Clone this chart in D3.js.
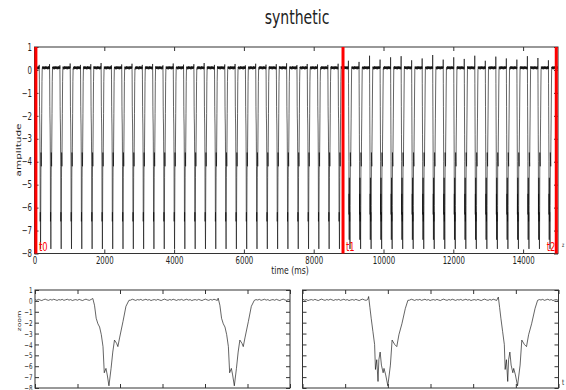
<!DOCTYPE html>
<html>
<head>
<meta charset="utf-8">
<script src="https://cdn.jsdelivr.net/npm/d3@7"></script>
<style>
    body { margin: 0; background: #fff; }
    svg text { font-family: "DejaVu Sans", sans-serif; fill: #222; }
</style>
</head>
<body>
<div id="chart"></div>
<script>
// DATA
var beatOnsets = [136, 431, 727, 1022, 1317, 1613, 1908, 2203, 2498, 2794,
    3089, 3384, 3680, 3975, 4270, 4566, 4861, 5156, 5451, 5747,
    6042, 6337, 6633, 6928, 7223, 7519, 7814, 8109, 8404, 8700,
    8995, 9299, 9600, 9902, 10203, 10505, 10806, 11108, 11409, 11711,
    12012, 12314, 12615, 12917, 13218, 13520, 13821, 14123, 14424, 14726];
// small up-tick at the start of every beat
var beatPeaks = [0.22, 0.25, 0.2, 0.28, 0.22, 0.25, 0.3, 0.2, 0.24, 0.27,
    0.22, 0.26, 0.2, 0.28, 0.23, 0.25, 0.3, 0.22, 0.24, 0.26,
    0.2, 0.27, 0.23, 0.25, 0.29, 0.21, 0.26, 0.24, 0.22, 0.27,
    0.4, 0.35, 0.62, 0.45, 0.55, 0.6, 0.42, 0.5, 0.65, 0.45,
    0.55, 0.48, 0.62, 0.4, 0.58, 0.5, 0.45, 0.6, 0.52, 0.42];
// beat shape before t1 (ms after onset, amplitude)
var normalShapeT = [0, 4, 8, 12, 16, 20, 24, 27, 31, 34, 38, 43, 47, 51, 56, 59, 63, 71, 78, 85];
var normalShapeV = [0.2, -0.4, -1.6, -2.1, -2.4, -3.1, -4.2, -6.6, -6.2, -6.8, -7.8, -6.2, -4.7, -3.6, -3.9, -4.2, -3.4, -1.9, -0.5, 0.05];
// beat shape after t1
var lateShapeT = [0, 3, 6, 10, 14, 16, 19, 22, 24, 27, 30, 34, 36, 40, 45, 51, 55, 61, 66, 71, 78, 86, 92];
var lateShapeV = [0.4, -0.6, -1.6, -2.8, -4.0, -6.3, -5.4, -7.4, -5.4, -4.7, -5.9, -6.6, -6.2, -6.8, -7.8, -5.9, -3.6, -4.0, -4.2, -3.1, -2.1, -0.7, 0.05];
// baseline wiggle, one value every 4 ms
var baseNoise = [0.12, 0.06, 0.14, 0.08, 0.03, 0.11, 0.16, 0.09, 0.05, 0.13, 0.07, 0.15, 0.1, 0.04, 0.12, 0.08,
    0.14, 0.05, 0.1, 0.15, 0.07, 0.12, 0.03, 0.09];

var markerNames = ['t0', 't1', 't2'];
var markerTimes = [40, 8840, 14950];
var timeTicks = [0, 2000, 4000, 6000, 8000, 10000, 12000, 14000];
var ampTicks = [1, 0, -1, -2, -3, -4, -5, -6, -7, -8];
var zoomStarts = [0, 8840];
var zoomLength = 600;

// HELPERS
var SX = 0.7; // the figure is squeezed horizontally, text too

function buildSignal() {
    var pts = [], t = 0, k = 0;
    beatOnsets.forEach(function (o, i) {
        while (t < o) {
            pts.push({ t: t, v: baseNoise[k++ % baseNoise.length] });
            t += 4;
        }
        var late = o > markerTimes[1];
        var st = late ? lateShapeT : normalShapeT,
            sv = late ? lateShapeV : normalShapeV;
        st.forEach(function (dt, j) {
            pts.push({ t: o + dt, v: j === 0 ? beatPeaks[i] : sv[j] });
        });
        t = o + st[st.length - 1] + 4;
    });
    while (t <= 15000) {
        pts.push({ t: t, v: baseNoise[k++ % baseNoise.length] });
        t += 4;
    }
    return pts;
}

function squashText(sel, size) {
    sel.style('font-size', size + 'px')
        .attr('transform', 'scale(' + SX + ',1)');
}

var signal = buildSignal();

var svg = d3.select('#chart')
    .append('svg')
    .attr('width', 566)
    .attr('height', 390);

// title
svg.append('text')
    .attr('transform', 'translate(297,24) scale(0.74,1)')
    .attr('text-anchor', 'middle')
    .style('font-size', '19px')
    .text('synthetic');

function drawPanel(box, xDomain, xTickVals, fontSize, showY, clipId) {
    var x = d3.scaleLinear().domain(xDomain).range([box.left, box.right]);
    var y = d3.scaleLinear().domain([-8, 1]).range([box.bottom, box.top]);

    svg.append('clipPath')
        .attr('id', clipId)
        .append('rect')
        .attr('x', box.left)
        .attr('y', box.top)
        .attr('width', box.right - box.left)
        .attr('height', box.bottom - box.top);

    var data = signal.filter(function (d) {
        return d.t >= xDomain[0] - 20 && d.t <= xDomain[1] + 20;
    });
    var line = d3.line()
        .x(function (d) { return x(d.t); })
        .y(function (d) { return y(d.v); });

    svg.append('path')
        .datum(data)
        .attr('clip-path', 'url(#' + clipId + ')')
        .attr('d', line)
        .attr('fill', 'none')
        .attr('stroke', '#111')
        .attr('stroke-width', 0.65)
        .attr('stroke-linejoin', 'round');

    // axes, ticks pointing inwards on all four sides
    var bottomAx = svg.append('g')
        .attr('transform', 'translate(0,' + box.bottom + ')')
        .call(d3.axisBottom(x).tickValues(xTickVals).tickSize(-4).tickSizeOuter(0).tickPadding(3)
            .tickFormat(showY === 'top' ? d3.format('d') : ''));
    svg.append('g')
        .attr('transform', 'translate(0,' + box.top + ')')
        .call(d3.axisTop(x).tickValues(xTickVals).tickSize(-4).tickSizeOuter(0).tickFormat(''));
    var leftAx = svg.append('g')
        .attr('transform', 'translate(' + box.left + ',0)')
        .call(d3.axisLeft(y).tickValues(ampTicks).tickSize(-4).tickSizeOuter(0).tickPadding(2.5 / SX)
            .tickFormat(showY ? d3.format('d') : ''));
    svg.append('g')
        .attr('transform', 'translate(' + box.right + ',0)')
        .call(d3.axisRight(y).tickValues(ampTicks).tickSize(-4).tickSizeOuter(0).tickFormat(''));

    svg.selectAll('.domain').remove();
    svg.selectAll('.tick line').attr('stroke', '#333');
    bottomAx.selectAll('text').call(squashText, fontSize);
    leftAx.selectAll('text').call(squashText, fontSize);

    svg.append('rect')
        .attr('x', box.left)
        .attr('y', box.top)
        .attr('width', box.right - box.left)
        .attr('height', box.bottom - box.top)
        .attr('fill', 'none')
        .attr('stroke', '#333')
        .attr('stroke-width', 1);

    return { x: x, y: y };
}

// MAIN PANEL
var mainBox = { left: 34.5, right: 558, top: 47, bottom: 253.5 };
var main = drawPanel(mainBox, [0, 15000], timeTicks, 10, 'top', 'clipMain');

// event markers
markerTimes.forEach(function (t, i) {
    svg.append('line')
        .attr('x1', main.x(t))
        .attr('x2', main.x(t))
        .attr('y1', mainBox.top)
        .attr('y2', mainBox.bottom)
        .attr('stroke', '#ff0000')
        .attr('stroke-width', 3);
    var last = i === markerTimes.length - 1;
    svg.append('text')
        .attr('transform', 'translate(' + (last ? main.x(t) - 1 : main.x(t) + 3) + ',251) scale(' + SX + ',1)')
        .attr('text-anchor', last ? 'end' : 'start')
        .style('font-size', '12px')
        .style('fill', '#ff0000')
        .text(markerNames[i]);
});

svg.append('text')
    .attr('transform', 'translate(290,274) scale(' + SX + ',1)')
    .attr('text-anchor', 'middle')
    .style('font-size', '11px')
    .text('time (ms)');

svg.append('text')
    .attr('transform', 'translate(21,150) scale(' + SX + ',1) rotate(-90)')
    .attr('text-anchor', 'middle')
    .style('font-size', '10.5px')
    .text('amplitude');

// ZOOM PANELS
var zoomBoxes = [
    { left: 35, right: 290, top: 290, bottom: 388 },
    { left: 302.5, right: 558.5, top: 290, bottom: 388 }
];
zoomStarts.forEach(function (s, i) {
    var ticks = d3.range(s, s + zoomLength + 1, 100);
    drawPanel(zoomBoxes[i], [s, s + zoomLength], ticks, 8, i === 0, 'clipZoom' + i);
});

svg.append('text')
    .attr('transform', 'translate(20.5,321) scale(' + SX + ',1) rotate(-90)')
    .attr('text-anchor', 'middle')
    .style('font-size', '7.5px')
    .text('zoom');

// clipped labels peeking in at the right edge
svg.append('text')
    .attr('transform', 'translate(562,247) scale(' + SX + ',1)')
    .style('font-size', '6px')
    .text('z');
svg.append('text')
    .attr('transform', 'translate(562,385) scale(' + SX + ',1)')
    .style('font-size', '8px')
    .text('t');
</script>
</body>
</html>
